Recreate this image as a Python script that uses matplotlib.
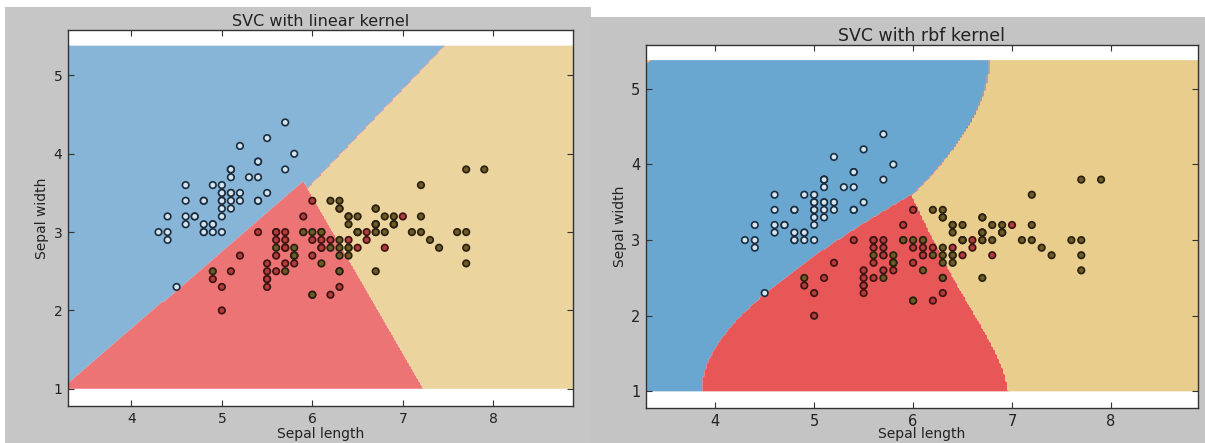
import numpy as np
import matplotlib
matplotlib.use("Agg")
import matplotlib.pyplot as plt
from matplotlib.colors import ListedColormap
from matplotlib.patches import Rectangle

# iris: sepal length / sepal width, classes 0 setosa, 1 versicolor, 2 virginica
sepal_length = [
    5.1, 4.9, 4.7, 4.6, 5.0, 5.4, 4.6, 5.0, 4.4, 4.9, 5.4, 4.8, 4.8, 4.3, 5.8, 5.7, 5.4,
    5.1, 5.7, 5.1, 5.4, 5.1, 4.6, 5.1, 4.8, 5.0, 5.0, 5.2, 5.2, 4.7, 4.8, 5.4, 5.2, 5.5,
    4.9, 5.0, 5.5, 4.9, 4.4, 5.1, 5.0, 4.5, 4.4, 5.0, 5.1, 4.8, 5.1, 4.6, 5.3, 5.0,
    7.0, 6.4, 6.9, 5.5, 6.5, 5.7, 6.3, 4.9, 6.6, 5.2, 5.0, 5.9, 6.0, 6.1, 5.6, 6.7, 5.6,
    5.8, 6.2, 5.6, 5.9, 6.1, 6.3, 6.1, 6.4, 6.6, 6.8, 6.7, 6.0, 5.7, 5.5, 5.5, 5.8, 6.0,
    5.4, 6.0, 6.7, 6.3, 5.6, 5.5, 5.5, 6.1, 5.8, 5.0, 5.6, 5.7, 5.7, 6.2, 5.1, 5.7,
    6.3, 5.8, 7.1, 6.3, 6.5, 7.6, 4.9, 7.3, 6.7, 7.2, 6.5, 6.4, 6.8, 5.7, 5.8, 6.4, 6.5,
    7.7, 7.7, 6.0, 6.9, 5.6, 7.7, 6.3, 6.7, 7.2, 6.2, 6.1, 6.4, 7.2, 7.4, 7.9, 6.4, 6.3,
    6.1, 7.7, 6.3, 6.4, 6.0, 6.9, 6.7, 6.9, 5.8, 6.8, 6.7, 6.7, 6.3, 6.5, 6.2, 5.9,
]
sepal_width = [
    3.5, 3.0, 3.2, 3.1, 3.6, 3.9, 3.4, 3.4, 2.9, 3.1, 3.7, 3.4, 3.0, 3.0, 4.0, 4.4, 3.9,
    3.5, 3.8, 3.8, 3.4, 3.7, 3.6, 3.3, 3.4, 3.0, 3.4, 3.5, 3.4, 3.2, 3.1, 3.4, 4.1, 4.2,
    3.1, 3.2, 3.5, 3.6, 3.0, 3.4, 3.5, 2.3, 3.2, 3.5, 3.8, 3.0, 3.8, 3.2, 3.7, 3.3,
    3.2, 3.2, 3.1, 2.3, 2.8, 2.8, 3.3, 2.4, 2.9, 2.7, 2.0, 3.0, 2.2, 2.9, 2.9, 3.1, 3.0,
    2.7, 2.2, 2.5, 3.2, 2.8, 2.5, 2.8, 2.9, 3.0, 2.8, 3.0, 2.9, 2.6, 2.4, 2.4, 2.7, 2.7,
    3.0, 3.4, 3.1, 2.3, 3.0, 2.5, 2.6, 3.0, 2.6, 2.3, 2.7, 3.0, 2.9, 2.9, 2.5, 2.8,
    3.3, 2.7, 3.0, 2.9, 3.0, 3.0, 2.5, 2.9, 2.5, 3.6, 3.2, 2.7, 3.0, 2.5, 2.8, 3.2, 3.0,
    3.8, 2.6, 2.2, 3.2, 2.8, 2.8, 2.7, 3.3, 3.2, 2.8, 3.0, 2.8, 3.0, 2.8, 3.8, 2.8, 2.8,
    2.6, 3.0, 3.4, 3.1, 3.0, 3.1, 3.1, 3.1, 2.7, 3.2, 3.3, 3.0, 2.5, 3.0, 3.4, 3.0,
]
species = [0] * 50 + [1] * 50 + [2] * 50

titles = ["SVC with linear kernel", "SVC with rbf kernel"]
kernels = ["linear", "rbf"]
C = 1.0
gamma = 0.5
step = 0.02

# colours of the two screenshots differ slightly
region_colors = [["#86b5d7", "#ec7474", "#ebd49e"],
                 ["#69a7d1", "#e85757", "#e9cd8d"]]
point_fill = ["#d2e5f0", "#b13c3a", "#6f5a26"]
point_edge = ["#1c2c3c", "#3a1212", "#262010"]


def kernel(a, b, kind):
    if kind == "linear":
        return a @ b.T
    d = (a ** 2).sum(1)[:, None] + (b ** 2).sum(1)[None, :] - 2 * a @ b.T
    return np.exp(-gamma * d)


def fit_binary(X, y, kind, eps=1e-3, max_iter=200000):
    # plain SMO on the SVC dual, maximal violating pair
    n = len(y)
    K = kernel(X, X, kind)
    a = np.zeros(n)
    G = -np.ones(n)
    for _ in range(max_iter):
        v = -y * G
        up = ((y > 0) & (a < C)) | ((y < 0) & (a > 0))
        low = ((y < 0) & (a < C)) | ((y > 0) & (a > 0))
        iu = np.where(up)[0]
        il = np.where(low)[0]
        i = iu[np.argmax(v[iu])]
        j = il[np.argmin(v[il])]
        if v[i] - v[j] < eps:
            break
        eta = max(K[i, i] + K[j, j] - 2 * K[i, j], 1e-12)
        t = (v[i] - v[j]) / eta
        t = min(t, C - a[i] if y[i] > 0 else a[i], a[j] if y[j] > 0 else C - a[j])
        a[i] = np.clip(a[i] + y[i] * t, 0, C)
        a[j] = np.clip(a[j] - y[j] * t, 0, C)
        G += t * y * (K[:, i] - K[:, j])
    yG = y * G
    free = (a > 1e-8) & (a < C - 1e-8)
    if free.any():
        rho = yG[free].mean()
    else:
        at_up = ((y > 0) & (a >= C - 1e-8)) | ((y < 0) & (a <= 1e-8))
        ub = yG[(at_up & (y < 0)) | (~at_up & (y > 0))].min()
        lb = yG[(at_up & (y > 0)) | (~at_up & (y < 0))].max()
        rho = 0.5 * (ub + lb)
    return a * y, rho


def predict(X, labels, grid, kind):
    votes = np.zeros((len(grid), 3))
    for p, q in [(0, 1), (0, 2), (1, 2)]:
        m = (labels == p) | (labels == q)
        yb = np.where(labels[m] == p, 1.0, -1.0)
        coef, rho = fit_binary(X[m], yb, kind)
        f = kernel(grid, X[m], kind) @ coef - rho
        votes[f > 0, p] += 1
        votes[f <= 0, q] += 1
    return votes.argmax(1)


X = np.column_stack([sepal_length, sepal_width])
labels = np.array(species)
x_min, x_max = X[:, 0].min() - 1, X[:, 0].max() + 1
y_min, y_max = X[:, 1].min() - 1, X[:, 1].max() + 1
xx, yy = np.meshgrid(np.arange(x_min, x_max, step), np.arange(y_min, y_max, step))
grid = np.c_[xx.ravel(), yy.ravel()]

W, H = 1205, 443
fig = plt.figure(figsize=(W / 100, H / 100), dpi=100, facecolor="white")
# grey screenshot backgrounds
fig.patches.append(Rectangle((5 / W, 0), 586 / W, 436 / H, transform=fig.transFigure,
                             facecolor="#c6c6c6", edgecolor="none", zorder=-10))
fig.patches.append(Rectangle((591 / W, 0), 614 / W, 426 / H, transform=fig.transFigure,
                             facecolor="#c4c4c4", edgecolor="none", zorder=-10))

axes_rects = [[68 / W, 37 / H, 505 / W, 376 / H],
              [646 / W, 35 / H, 552 / W, 363 / H]]
font_sizes = [(11.5, 10, 10), (12.5, 10.5, 10)]
xlabel_pads = [1, -1]

for k in range(2):
    ax = fig.add_axes(axes_rects[k])
    ax.set_facecolor("white")
    Z = predict(X, labels, grid, kernels[k]).reshape(xx.shape)
    ax.contourf(xx, yy, Z, levels=[-0.5, 0.5, 1.5, 2.5],
                cmap=ListedColormap(region_colors[k]), antialiased=True)
    ax.scatter(X[:, 0], X[:, 1], s=22, c=[point_fill[c] for c in species],
               edgecolors=[point_edge[c] for c in species], linewidths=1.2, zorder=3)
    ax.set_xlim(xx.min(), xx.max())
    ax.set_ylim(0.78, 5.58)
    ax.set_xticks([4, 5, 6, 7, 8])
    ax.set_yticks([1, 2, 3, 4, 5])
    ax.tick_params(direction="in", top=True, right=True, length=4, width=0.8,
                   color="#333333", labelsize=font_sizes[k][1], labelcolor="#222222", pad=4)
    for s in ax.spines.values():
        s.set_color("#333333")
        s.set_linewidth(1.0)
    ax.set_title(titles[k], fontsize=font_sizes[k][0], color="#222222", pad=3)
    ax.set_xlabel("Sepal length", fontsize=font_sizes[k][2], color="#222222",
                  labelpad=xlabel_pads[k])
    ax.set_ylabel("Sepal width", fontsize=font_sizes[k][2], color="#222222", labelpad=3)

fig.savefig("out.png", dpi=100, facecolor="white")
